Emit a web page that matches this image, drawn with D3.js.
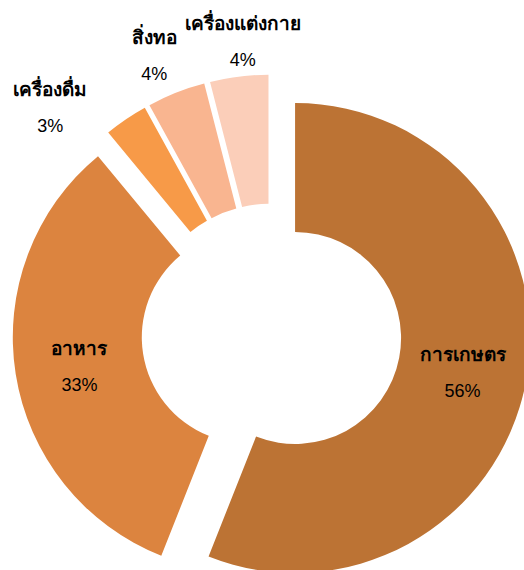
<!DOCTYPE html>
<html>
<head>
<meta charset="utf-8">
<script src="https://cdn.jsdelivr.net/npm/d3@7/dist/d3.min.js"></script>
<style>
  html, body { margin: 0; padding: 0; background: #fff; }
  svg { display: block; }
  text { font-family: "Liberation Sans", Arial, "Noto Sans", sans-serif; fill: #000; }
</style>
</head>
<body>
<svg id="chart" width="524" height="570"></svg>
<script>
// Data
const categories = ["การเกษตร", "อาหาร", "เครื่องดื่ม", "สิ่งทอ", "เครื่องแต่งกาย"];
const values = [56, 33, 3, 4, 4];
const percentLabels = ["56%", "33%", "3%", "4%", "4%"];
const colors = ["#BC7334", "#DC843F", "#F79A48", "#F9B590", "#FBCEB9"];
// labels inside the ring (true) or outside (false)
const labelInside = [true, true, false, false, false];
// small manual nudges for outside labels (avoid overlaps, as in reference)
const labelNudge = [[0, 0], [0, 0], [-56, 15], [-9, -7], [8, -3]];

const W = 524, H = 570;
const cx = 271.5, cy = 333.5;
const outerR = 235, innerR = 106, explode = 24, outsideLabelR = 270;

const svg = d3.select("#chart");
const g = svg.append("g").attr("transform", `translate(${cx},${cy})`);

const pie = d3.pie().sort(null).value(d => d.v).startAngle(0).endAngle(2 * Math.PI);
const data = categories.map((c, i) => ({ c, v: values[i], p: percentLabels[i], i }));
const arcs = pie(data);
const arc = d3.arc().innerRadius(innerR).outerRadius(outerR);

const slice = g.selectAll("g.slice").data(arcs).enter().append("g")
  .attr("class", "slice")
  .attr("transform", d => {
    const m = (d.startAngle + d.endAngle) / 2;
    return `translate(${explode * Math.sin(m)},${-explode * Math.cos(m)})`;
  });

slice.append("path")
  .attr("d", arc)
  .attr("fill", d => colors[d.data.i]);

slice.each(function(d) {
  const i = d.data.i;
  const m = (d.startAngle + d.endAngle) / 2;
  let x, y;
  if (labelInside[i]) {
    [x, y] = arc.centroid(d);
  } else {
    x = outsideLabelR * Math.sin(m);
    y = -outsideLabelR * Math.cos(m);
  }
  x += labelNudge[i][0];
  y += labelNudge[i][1];
  const sel = d3.select(this);
  sel.append("text")
    .attr("x", x).attr("y", y - 9)
    .attr("text-anchor", "middle")
    .style("font-size", "19px")
    .style("font-weight", "bold")
    .text(d.data.c);
  sel.append("text")
    .attr("x", x).attr("y", y + 27)
    .attr("text-anchor", "middle")
    .style("font-size", "18px")
    .text(d.data.p);
});
</script>
</body>
</html>
